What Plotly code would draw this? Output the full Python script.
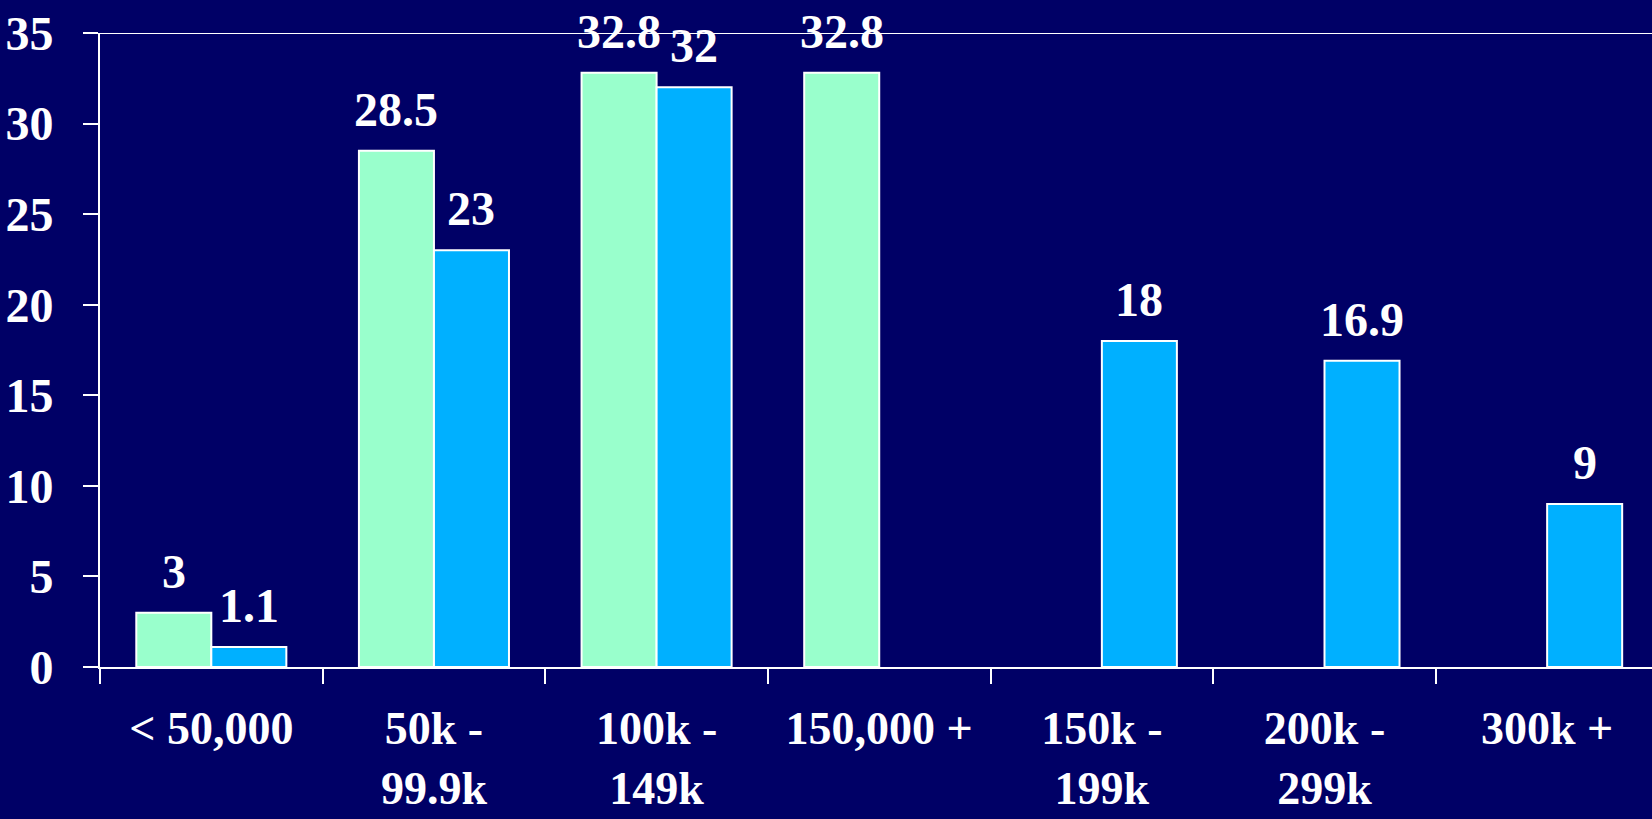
import plotly.graph_objects as go

# Income bands and the two survey series (percent of respondents)
categories = ["< 50,000", "50k -<br>99.9k", "100k -<br>149k", "150,000 +",
              "150k -<br>199k", "200k -<br>299k", "300k +"]
series_a = [3, 28.5, 32.8, 32.8, None, None, None]
series_b = [1.1, 23, 32, None, 18, 16.9, 9]
y_ticks = [0, 5, 10, 15, 20, 25, 30, 35]

BG = "rgb(0,0,102)"
GREEN = "#99FFCC"
BLUE = "#00B0FF"
FONT = dict(family="Liberation Serif, Times New Roman, serif", size=48,
            color="white", weight="bold")
XFONT = dict(FONT, size=46)

BARGAP = 0.326
half = (1 - BARGAP) / 4  # offset of each bar's centre from the category centre

fig = go.Figure()
fig.add_trace(go.Bar(x=categories, y=series_a, marker=dict(color=GREEN,
                     line=dict(color="white", width=2)), showlegend=False))
fig.add_trace(go.Bar(x=categories, y=series_b, marker=dict(color=BLUE,
                     line=dict(color="white", width=2)), showlegend=False))

# value labels above each bar
for vals, off in ((series_a, -half), (series_b, half)):
    for i, v in enumerate(vals):
        if v is None:
            continue
        fig.add_annotation(x=i + off, y=v, xref="x", yref="y", text=f"{v:g}",
                           showarrow=False, yanchor="bottom", yshift=13,
                           font=FONT)

# top border at the maximum of the value axis
fig.add_shape(type="line", xref="paper", yref="y", x0=0, x1=1, y0=35, y1=35,
              line=dict(color="white", width=2))

fig.update_layout(
    width=1652, height=819,
    margin=dict(l=100, r=0, t=33, b=152),
    paper_bgcolor=BG, plot_bgcolor=BG,
    barmode="group", bargap=BARGAP, bargroupgap=0,
    font=FONT,
)
fig.update_xaxes(type="category", range=[-0.5, 6.471], showgrid=False,
                 showline=True, linecolor="white", linewidth=2,
                 ticks="outside", tickson="boundaries", ticklen=15,
                 tickwidth=2, tickcolor="white", tickfont=XFONT,
                 ticklabelstandoff=20, zeroline=False, automargin=False)
fig.update_yaxes(range=[0, 35], tickvals=y_ticks, showgrid=False,
                 showline=True, linecolor="white", linewidth=2,
                 ticks="outside", ticklen=15, tickwidth=2, tickcolor="white",
                 tickfont=FONT, ticklabelstandoff=20, zeroline=False,
                 automargin=False)

fig.write_html("out.html")
